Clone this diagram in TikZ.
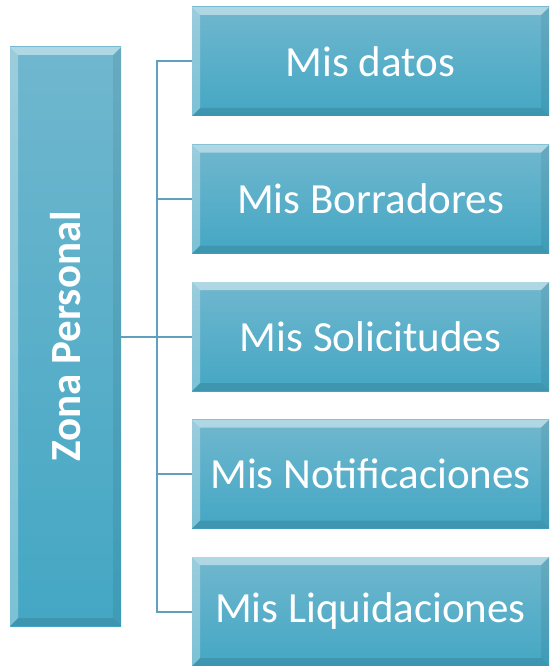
\documentclass[tikz,border=0pt]{standalone}
\usepackage{fontspec}
\setmainfont{Carlito}
\definecolor{boxtop}{RGB}{112,183,206}
\definecolor{boxbot}{RGB}{68,167,196}
\definecolor{linkcol}{RGB}{96,160,190}
\tikzset{
  bevelbox/.style={draw=none, top color=boxtop, bottom color=boxbot,
    text=white, inner sep=0pt, font=\fontsize{43}{47}\selectfont,
    path picture={
      \fill[white,opacity=0.45] (path picture bounding box.north west) -- (path picture bounding box.north east)
        -- ([xshift=-8pt,yshift=-8pt]path picture bounding box.north east) -- ([xshift=8pt,yshift=-8pt]path picture bounding box.north west) -- cycle;
      \fill[white,opacity=0.30] (path picture bounding box.north west) -- ([xshift=8pt,yshift=-8pt]path picture bounding box.north west)
        -- ([xshift=8pt,yshift=8pt]path picture bounding box.south west) -- (path picture bounding box.south west) -- cycle;
      \fill[black,opacity=0.07] (path picture bounding box.north east) -- ([xshift=-8pt,yshift=-8pt]path picture bounding box.north east)
        -- ([xshift=-8pt,yshift=8pt]path picture bounding box.south east) -- (path picture bounding box.south east) -- cycle;
      \fill[black,opacity=0.10] (path picture bounding box.south west) -- ([xshift=8pt,yshift=8pt]path picture bounding box.south west)
        -- ([xshift=-8pt,yshift=8pt]path picture bounding box.south east) -- (path picture bounding box.south east) -- cycle;
    }},
  itembox/.style={bevelbox, minimum width=357pt, minimum height=109pt},
  link/.style={draw=linkcol, line width=2pt}
}
\begin{document}
\begin{tikzpicture}[x=1pt,y=-1pt]
  \useasboundingbox (0,0) rectangle (551,666);
  % main block
  \node[bevelbox, minimum width=111pt, minimum height=579pt,
        font=\fontsize{43}{47}\selectfont\bfseries] (zona) at (65.5,336.5)
        {\rotatebox{90}{Zona Personal}};
  % sub blocks
  \node[itembox] (datos) at (370.5,61.5) {Mis datos};
  \node[itembox] (borr) at (370.5,199) {Mis Borradores};
  \node[itembox] (solic) at (370.5,336.5) {Mis Solicitudes};
  \node[itembox] (notif) at (370.5,474) {Mis Notificaciones};
  \node[itembox] (liqui) at (370.5,611.5) {Mis Liquidaciones};
  % bracket
  \coordinate (fork) at (157,336.5);
  \draw[link] (zona.east) -- (fork);
  \draw[link] (datos.west) -| (fork) |- (liqui.west);
  \foreach \b in {borr,solic,notif}
    \draw[link] (\b.west) -- (fork |- \b.west);
\end{tikzpicture}
\end{document}
